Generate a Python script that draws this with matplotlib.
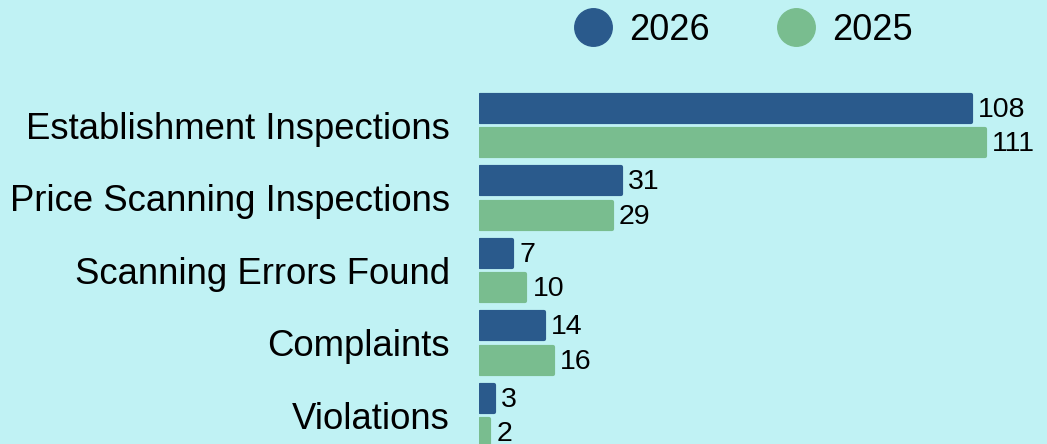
import matplotlib
matplotlib.use('Agg')
import matplotlib.pyplot as plt
import numpy as np

categories = ['Establishment Inspections', 'Price Scanning Inspections',
              'Scanning Errors Found', 'Complaints', 'Violations']
vals_2026 = [108, 31, 7, 14, 3]
vals_2025 = [111, 29, 10, 16, 2]

bg = '#c0f2f4'
c2026 = '#2a5a8c'
c2025 = '#79bd8f'

plt.rcParams['font.family'] = ['Liberation Sans', 'DejaVu Sans']

W, H = 1047, 444
fig = plt.figure(figsize=(W / 100, H / 100), dpi=100, facecolor=bg)
ax = fig.add_axes([479 / W, 0, 1 - 479 / W, 1])
ax.set_facecolor(bg)

y = np.arange(len(categories))
h = 0.375
# thick round-joined edge gives the soft bar corners
b1 = ax.barh(y - 0.235, vals_2026, height=h, color=c2026, edgecolor=c2026,
             linewidth=3, joinstyle='round', label='2026')
b2 = ax.barh(y + 0.24, vals_2025, height=h, color=c2025, edgecolor=c2025,
             linewidth=3, joinstyle='round', label='2025')

for bars, vals in ((b1, vals_2026), (b2, vals_2025)):
    for bar, v in zip(bars, vals):
        ax.text(bar.get_width() + 1.6, bar.get_y() + bar.get_height() / 2 + 0.02, str(v),
                va='center', ha='left', fontsize=20.5, color='black')

scale = 4.546  # px per unit
ax.set_xlim(-0.2, (W - 479) / scale - 0.2)
top = -125.5 / 72.4
bottom = (H - 125.5) / 72.4
ax.set_ylim(bottom, top)

ax.set_yticks(y)
ax.set_yticklabels(categories, fontsize=26.3)
ax.tick_params(axis='y', length=0, pad=21)
ax.set_xticks([])
for s in ax.spines.values():
    s.set_visible(False)

handles = [plt.Line2D([], [], marker='o', linestyle='', markersize=27, color=c2026),
           plt.Line2D([], [], marker='o', linestyle='', markersize=27, color=c2025)]
fig.legend(handles, ['2026', '2025'], loc='center', bbox_to_anchor=(742 / W, 1 - 30 / H),
           ncol=2, frameon=False, fontsize=26, handletextpad=0.4, columnspacing=1.8,
           handlelength=1.2)

fig.savefig('out.png', dpi=100, facecolor=bg)
